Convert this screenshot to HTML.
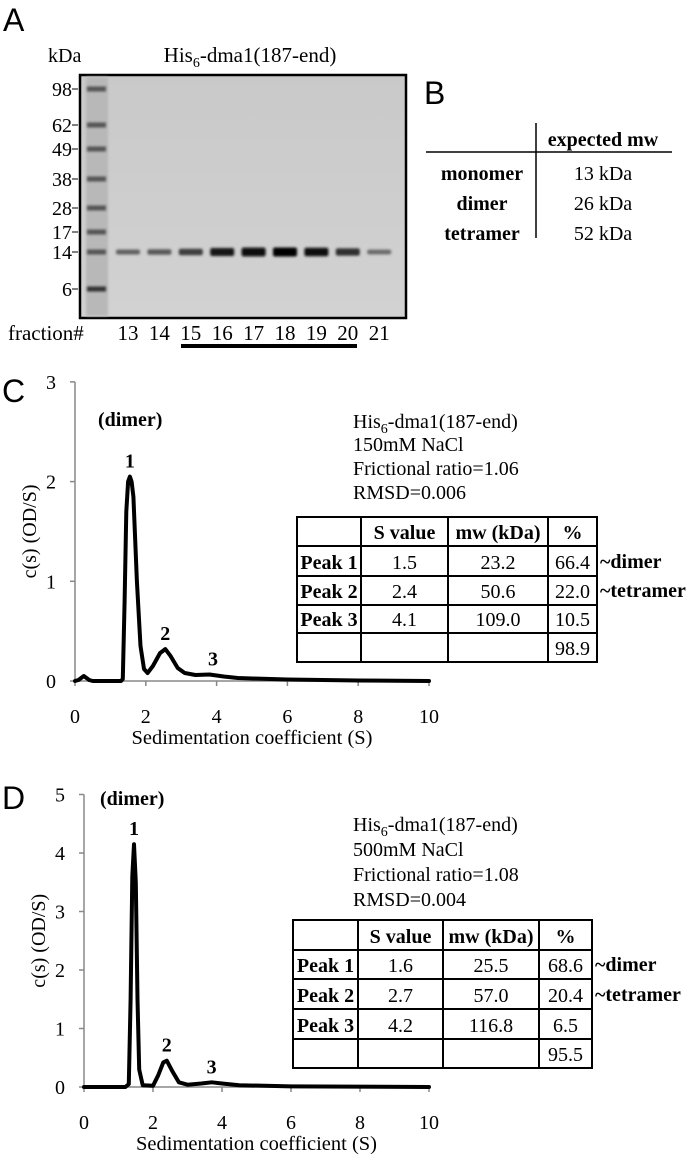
<!DOCTYPE html>
<html><head><meta charset="utf-8"><style>
html,body{margin:0;padding:0;background:#fff;}
svg{display:block;font-family:"Liberation Serif",serif;}
.sans{font-family:"Liberation Sans",sans-serif;}
</style></head><body>
<svg id="fig" width="693" height="1155" viewBox="0 0 693 1155" xmlns="http://www.w3.org/2000/svg">
<defs>
<filter id="blur" x="-20%" y="-100%" width="140%" height="300%"><feGaussianBlur stdDeviation="1.3"/></filter>
<linearGradient id="gelbg" x1="0" y1="0" x2="0" y2="1"><stop offset="0" stop-color="#c9c9c9"/><stop offset="1" stop-color="#d2d2d2"/></linearGradient>
</defs>
<!-- Panel A -->
<text class="sans" x="3" y="31" font-size="32">A</text>
<text x="48" y="62" font-size="20">kDa</text>
<text x="250" y="62" font-size="21" text-anchor="middle">His<tspan font-size="14" dy="5">6</tspan><tspan dy="-5">-dma1(187-end)</tspan></text>
<g id="gel">
<rect x="80" y="75" width="326" height="243" fill="url(#gelbg)" stroke="#000" stroke-width="2.5"/>
<rect x="86" y="77" width="22" height="239" fill="#b8b8b8" filter="url(#blur)"/>
</g>
<g id="markers"></g>
<g id="lanes"></g>
<text x="8" y="340" font-size="21">fraction#</text>
<rect x="181" y="344" width="176" height="4" fill="#000"/>

<!-- Panel B -->
<text class="sans" x="424" y="104" font-size="32">B</text>
<g>
<line x1="536" y1="123" x2="536" y2="238" stroke="#000" stroke-width="1.5"/>
<line x1="426" y1="152" x2="672" y2="152" stroke="#000" stroke-width="1.5"/>
<text x="603" y="146" font-size="20" font-weight="bold" text-anchor="middle">expected mw</text>
<text x="482" y="180" font-size="20" font-weight="bold" text-anchor="middle">monomer</text>
<text x="482" y="210" font-size="20" font-weight="bold" text-anchor="middle">dimer</text>
<text x="482" y="240" font-size="20" font-weight="bold" text-anchor="middle">tetramer</text>
<text x="603" y="180" font-size="20" text-anchor="middle">13 kDa</text>
<text x="603" y="210" font-size="20" text-anchor="middle">26 kDa</text>
<text x="603" y="240" font-size="20" text-anchor="middle">52 kDa</text>
</g>

<!-- Panel C -->
<text class="sans" x="2" y="402" font-size="32">C</text>
<g id="chartC"></g>
<text x="98" y="426" font-size="20" font-weight="bold">(dimer)</text>
<g font-size="20">
<text x="353" y="428">His<tspan font-size="14" dy="5">6</tspan><tspan dy="-5">-dma1(187-end)</tspan></text>
<text x="353" y="451">150mM NaCl</text>
<text x="353" y="475">Frictional ratio=1.06</text>
<text x="353" y="499">RMSD=0.006</text>
</g>
<g id="tableC"></g>

<!-- Panel D -->
<text class="sans" x="2" y="809" font-size="32">D</text>
<g id="chartD"></g>
<text x="100" y="805" font-size="20" font-weight="bold">(dimer)</text>
<g font-size="20">
<text x="353" y="831">His<tspan font-size="14" dy="5">6</tspan><tspan dy="-5">-dma1(187-end)</tspan></text>
<text x="353" y="856">500mM NaCl</text>
<text x="353" y="881">Frictional ratio=1.08</text>
<text x="353" y="906">RMSD=0.004</text>
</g>
<g id="tableD"></g>
</svg>
<script>
// ---- Gel data ----
const markerLabels = ["98","62","49","38","28","17","14","6"];
const markerY = [89,125,149,179,208,232,252,289];
const laneLabels = ["13","14","15","16","17","18","19","20","21"];
const laneBandIntensity = [0.35,0.4,0.6,0.85,0.95,1.0,0.9,0.7,0.3];
// ---- Chart C data ----
const cS = [0,0.1,0.25,0.4,0.5,1.3,1.35,1.4,1.45,1.5,1.55,1.6,1.65,1.75,1.85,1.95,2.05,2.2,2.4,2.55,2.7,2.9,3.1,3.4,3.8,4.2,4.6,5,6,8,10];
const cVal = [0,0.01,0.05,0.01,0,0,0.02,0.8,1.7,2.0,2.05,2.0,1.85,1.0,0.35,0.12,0.08,0.15,0.28,0.32,0.25,0.13,0.08,0.06,0.065,0.045,0.03,0.025,0.015,0.005,0];
const cYTicks = [0,1,2,3];
const cXTicks = [0,2,4,6,8,10];
const cPeakLabels = ["1","2","3"];
const cPeakS = [1.55,2.55,3.9];
const cPeakV = [2.05,0.32,0.065];
const cTableRows = [["","S value","mw (kDa)","%"],["Peak 1","1.5","23.2","66.4"],["Peak 2","2.4","50.6","22.0"],["Peak 3","4.1","109.0","10.5"],["","","","98.9"]];
// ---- Chart D data ----
const dS = [0,1.2,1.3,1.35,1.4,1.45,1.5,1.55,1.6,1.7,2.0,2.15,2.3,2.4,2.55,2.75,3.0,3.4,3.7,4.0,4.5,6,10];
const dVal = [0,0,0.05,1.5,3.6,4.15,3.5,1.5,0.3,0.03,0.02,0.2,0.42,0.45,0.28,0.08,0.04,0.06,0.08,0.06,0.03,0.01,0];
const dYTicks = [0,1,2,3,4,5];
const dXTicks = [0,2,4,6,8,10];
const dPeakLabels = ["1","2","3"];
const dPeakS = [1.45,2.4,3.7];
const dPeakV = [4.15,0.45,0.08];
const dTableRows = [["","S value","mw (kDa)","%"],["Peak 1","1.6","25.5","68.6"],["Peak 2","2.7","57.0","20.4"],["Peak 3","4.2","116.8","6.5"],["","","","95.5"]];
const tableNotes = ["~dimer","~tetramer"];

const NS="http://www.w3.org/2000/svg";
function mk(tag,attrs,parent,text){const e=document.createElementNS(NS,tag);for(const k in attrs)e.setAttribute(k,attrs[k]);if(text!==undefined)e.textContent=text;parent.appendChild(e);return e;}

// gel
const gel=document.getElementById('gel');
const mg=document.getElementById('markers');
markerLabels.forEach((l,i)=>{
  const b=mk('rect',{x:87,y:markerY[i]-2.5,width:19,height:5,fill:i===7?'#333':'#555',filter:'url(#blur)'},gel);
  
  
  const t=mk('text',{x:72,y:markerY[i]+7,'font-size':20,'text-anchor':'end'},mg,l);
  
  
  mk('line',{x1:72,y1:markerY[i],x2:78,y2:markerY[i],stroke:'#000','stroke-width':1},mg);
});
const lg=document.getElementById('lanes');
const laneX0=128, laneDx=31.4;
laneLabels.forEach((l,i)=>{
  const x=laneX0+i*laneDx, k=laneBandIntensity[i];
  const g=Math.round(150-150*k);
  const h=3+6*k;
  const b=mk('rect',{x:x-12,y:252-h/2,width:24,height:h,rx:2,fill:`rgb(${g},${g},${g})`,filter:'url(#blur)'},gel);
  
  
  const t=mk('text',{x:x,y:340,'font-size':21,'text-anchor':'middle'},lg,l);
  
  
});

function chart(gid,x0,x10,y0,yPer,S,V,yt,xt,pl,ps,pv,yMax){
  const g=document.getElementById(gid);
  const sx=s=>x0+(x10-x0)*s/10, sy=v=>y0-v*yPer;
  const ax=mk('g',{stroke:'#888','stroke-width':1.5},g);
  
  
  mk('line',{x1:x0,y1:sy(yMax),x2:x0,y2:y0},ax);
  mk('line',{x1:x0,y1:y0,x2:x10,y2:y0},ax);
  yt.forEach(v=>{
    mk('line',{x1:x0-5,y1:sy(v),x2:x0,y2:sy(v)},ax);
    const t=mk('text',{x:x0-19,y:sy(v)+7,'font-size':20,'text-anchor':'end'},g,String(v));
    
    
  });
  xt.forEach(v=>{
    mk('line',{x1:sx(v),y1:y0,x2:sx(v),y2:y0+5},ax);
    const t=mk('text',{x:sx(v),y:y0+42,'font-size':20,'text-anchor':'middle'},g,String(v));
    
    
  });
  const xtl=mk('text',{x:(x0+x10)/2,y:y0+63,'font-size':20.5,'text-anchor':'middle'},g,'Sedimentation coefficient (S)');
  
  
  const cy=(sy(yMax)+y0)/2, cx=x0-39;
  const ytl=mk('text',{x:cx,y:cy,'font-size':20,'text-anchor':'middle',transform:`rotate(-90 ${cx} ${cy})`},g,'c(s) (OD/S)');
  
  
  const pts=S.map((s,i)=>sx(s).toFixed(1)+','+sy(V[i]).toFixed(1)).join(' ');
  const line=mk('polyline',{points:pts,fill:'none',stroke:'#000','stroke-width':4,'stroke-linejoin':'round','stroke-linecap':'round'},g);
  
  
  pl.forEach((l,i)=>{
    const t=mk('text',{x:sx(ps[i]),y:sy(pv[i])-9,'font-size':20,'font-weight':'bold','text-anchor':'middle'},g,l);
    
    
  });
}
chart('chartC',75,429,681,99.7,cS,cVal,cYTicks,cXTicks,cPeakLabels,cPeakS,cPeakV,3);
chart('chartD',84,429,1087,58.5,dS,dVal,dYTicks,dXTicks,dPeakLabels,dPeakS,dPeakV,5);

function table(gid,cols,rows,data){
  const g=document.getElementById(gid);
  const L=cols[0],R=cols[cols.length-1],T=rows[0],B=rows[rows.length-1];
  mk('rect',{x:L,y:T,width:R-L,height:B-T,fill:'#fff',stroke:'#000','stroke-width':2},g);
  cols.slice(1,-1).forEach(c=>mk('line',{x1:c,y1:T,x2:c,y2:B,stroke:'#000','stroke-width':2},g));
  rows.slice(1,-1).forEach(r=>mk('line',{x1:L,y1:r,x2:R,y2:r,stroke:'#000','stroke-width':2},g));
  data.forEach((row,ri)=>row.forEach((v,ci)=>{
    if(!v)return;
    const bold=ri===0||ci===0;
    const t=mk('text',{x:(cols[ci]+cols[ci+1])/2,y:rows[ri+1]-7,'font-size':20,'font-weight':bold?'bold':'normal','text-anchor':'middle'},g,v);
    
    
  }));
  tableNotes.forEach((n,i)=>{
    const t=mk('text',{x:R+3,y:rows[i+2]-8,'font-size':20,'font-weight':'bold'},g,n);
    
    
  });
}
table('tableC',[297,361,448,548,597],[517,546,576,605,633,662],cTableRows);
table('tableD',[293,358,443,539,592],[920,950,979,1009,1039,1068],dTableRows);
</script>
</body></html>
